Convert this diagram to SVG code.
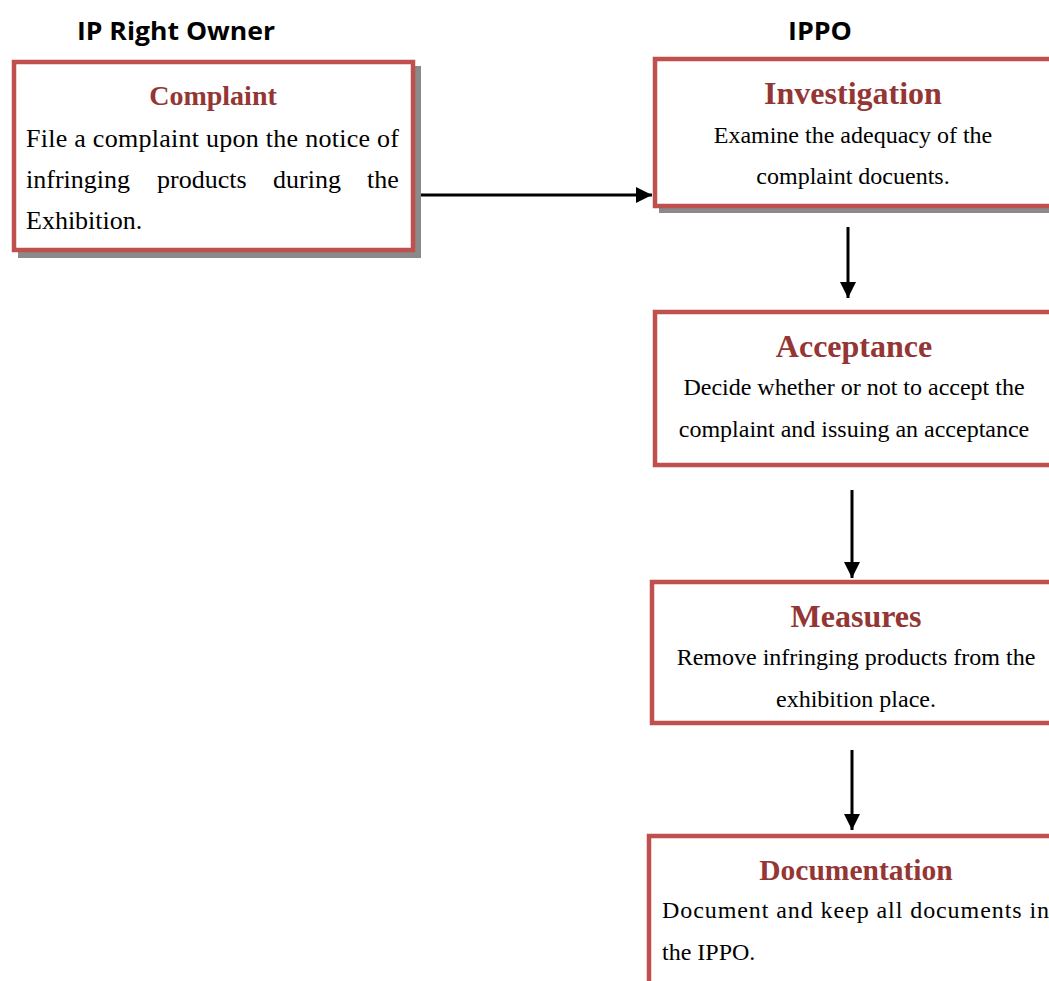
<svg xmlns="http://www.w3.org/2000/svg" width="1049" height="981" viewBox="0 0 1049 981">
<style>
.box{fill:#fff;stroke:#C0504D;stroke-width:4.5}
.shadow{fill:#8a8a8a}
.hdr{font-family:"Open Sans","Liberation Sans",sans-serif;font-weight:bold;font-size:25px;fill:#000}
.ttl{font-family:"Liberation Serif","Times New Roman",serif;font-weight:bold;fill:#943634;text-anchor:middle}
.body{font-family:"Liberation Serif","Times New Roman",serif;font-size:24px;fill:#000}
.big{font-size:26px}
.c{text-anchor:middle}
.conn{stroke:#000;stroke-width:3;fill:none}
</style>
<defs>
<marker id="ah" viewBox="0 0 10 10" refX="10" refY="5" markerWidth="5.5" markerHeight="5.5" orient="auto" markerUnits="strokeWidth">
<path d="M0,0 L10,5 L0,10 Z" fill="#000"/>
</marker>
</defs>
<rect width="1049" height="981" fill="#fff"/>
<g id="headers">
<text class="hdr" x="77" y="40" textLength="198" lengthAdjust="spacingAndGlyphs">IP Right Owner</text>
<text class="hdr" x="788" y="40" textLength="64" lengthAdjust="spacingAndGlyphs">IPPO</text>
</g>
<g id="connectors">
<line class="conn" x1="418" y1="195" x2="652" y2="195" marker-end="url(#ah)"/>
<line class="conn" x1="848" y1="227" x2="848" y2="298" marker-end="url(#ah)"/>
<line class="conn" x1="852" y1="490" x2="852" y2="578" marker-end="url(#ah)"/>
<line class="conn" x1="852" y1="750" x2="852" y2="830" marker-end="url(#ah)"/>
</g>
<g id="complaint">
<rect class="shadow" x="18" y="66" width="403" height="192"/>
<rect class="box" x="14" y="62" width="399" height="188"/>
<text class="ttl" x="213" y="105" font-size="28">Complaint</text>
<text class="body big" x="26" y="147" textLength="373" lengthAdjust="spacing">File a complaint upon the notice of</text>
<text class="body big" y="188"><tspan x="26">infringing</tspan><tspan x="157">products</tspan><tspan x="273">during</tspan><tspan x="367">the</tspan></text>
<text class="body big" x="26" y="229">Exhibition.</text>
</g>
<g id="investigation">
<rect class="shadow" x="659" y="63" width="400" height="150"/>
<rect class="box" x="655" y="59" width="400" height="147"/>
<text class="ttl" x="853" y="104" font-size="32">Investigation</text>
<text class="body c" x="853" y="143">Examine the adequacy of the</text>
<text class="body c" x="853" y="184">complaint docuents.</text>
</g>
<g id="acceptance">
<rect class="box" x="655" y="312" width="400" height="153"/>
<text class="ttl" x="854" y="357" font-size="32">Acceptance</text>
<text class="body c" x="854" y="395">Decide whether or not to accept the</text>
<text class="body c" x="854" y="437">complaint and issuing an acceptance</text>
</g>
<g id="measures">
<rect class="box" x="652" y="582" width="403" height="141"/>
<text class="ttl" x="856" y="627" font-size="32">Measures</text>
<text class="body c" x="856" y="665">Remove infringing products from the</text>
<text class="body c" x="856" y="707">exhibition place.</text>
</g>
<g id="documentation">
<rect class="box" x="649" y="836" width="410" height="160"/>
<text class="ttl" x="856" y="880" font-size="29.5">Documentation</text>
<text class="body" x="662" y="918" textLength="387" lengthAdjust="spacing">Document and keep all documents in</text>
<text class="body" x="662" y="960">the IPPO.</text>
</g>
</svg>
